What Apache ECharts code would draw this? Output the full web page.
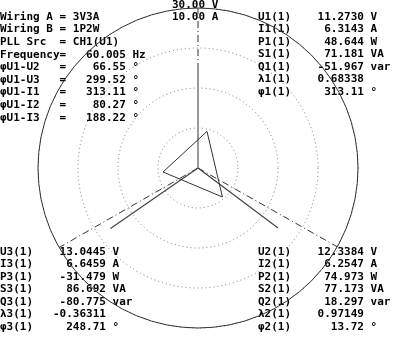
<!DOCTYPE html>
<html>
<head>
<meta charset="utf-8">
<script src="https://cdn.jsdelivr.net/npm/echarts@6/dist/echarts.min.js"></script>
<style>
    html, body {margin: 0; padding: 0; background: #fff;}
    #main {width: 398px; height: 338px;}
</style>
</head>
<body>
<div id="main"></div>
<script>
    // full scale of the outer ring
    const voltRange = 30.00;
    const currRange = 10.00;

    // phase voltage triangle vertices (V, degrees clockwise from top)
    const voltMag = [7.07, 7.11, 6.60];
    const voltAng = [13.8, 139.9, 263.5];

    // current vectors I1, I2, I3 (A, degrees)
    const currMag = [6.3143, 6.2547, 6.6459];
    const currAng = [0, 126.9, 235.4];

    // dash-dot reference axes (degrees, length in % of full scale)
    const refAng = [0, 119.5, 240.2];
    const refLen = [100, 136, 122];

    // readouts
    const setupLabels = ['Wiring A', 'Wiring B', 'PLL Src'];
    const setupValues = ['3V3A', '1P2W', 'CH1(U1)'];
    const freqValue = '60.005';
    const phaseLabels = ['φU1-U2', 'φU1-U3', 'φU1-I1', 'φU1-I2', 'φU1-I3'];
    const phaseValues = ['66.55', '299.52', '313.11', '80.27', '188.22'];

    const units = ['V', 'A', 'W', 'VA', 'var', '', '°'];
    const ch1Labels = ['U1(1)', 'I1(1)', 'P1(1)', 'S1(1)', 'Q1(1)', 'λ1(1)', 'φ1(1)'];
    const ch1Values = ['11.2730', '6.3143', '48.644', '71.181', '-51.967', '0.68338', '313.11'];
    const ch2Labels = ['U2(1)', 'I2(1)', 'P2(1)', 'S2(1)', 'Q2(1)', 'λ2(1)', 'φ2(1)'];
    const ch2Values = ['12.3384', '6.2547', '74.973', '77.173', '18.297', '0.97149', '13.72'];
    const ch3Labels = ['U3(1)', 'I3(1)', 'P3(1)', 'S3(1)', 'Q3(1)', 'λ3(1)', 'φ3(1)'];
    const ch3Values = ['13.0445', '6.6459', '-31.479', '86.692', '-80.775', '-0.36311', '248.71'];

    const font = 'bold 11px "DejaVu Sans Mono"';

    function txt(text, x, y) {
        return {
            type: 'text', silent: true,
            style: {text: text, x: x, y: y, font: font, fill: '#000', verticalAlign: 'middle'}
        };
    }

    function lineSeries(data, color, width, type, z) {
        return {
            type: 'line', coordinateSystem: 'polar', data: data,
            symbol: 'none', clip: false, silent: true, animation: false, z: z,
            lineStyle: {color: color, width: width, type: type}
        };
    }

    let series = [];
    // reference axes
    refAng.forEach((a, i) => {
        series.push(lineSeries([[0, a], [refLen[i], a]], '#333', 1, [7, 3, 1, 3], 2));
    });
    // voltage triangle
    let tri = voltMag.map((v, i) => [v / voltRange * 100, voltAng[i]]);
    tri.push(tri[0]);
    series.push(lineSeries(tri, '#333', 1, 'solid', 4));
    // current vectors
    currMag.forEach((v, i) => {
        series.push(lineSeries([[0, currAng[i]], [v / currRange * 100, currAng[i]]],
            i === 0 ? '#999' : '#444', i === 0 ? 2 : 1.2, 'solid', 3));
    });

    let graphics = [];
    let rowY = i => 17 + i * 12.6;
    setupLabels.forEach((l, i) => graphics.push(txt(l.padEnd(9) + '= ' + setupValues[i], 0, rowY(i))));
    graphics.push(txt('Frequency=' + freqValue.padStart(9) + ' Hz', 0, rowY(3)));
    phaseLabels.forEach((l, i) => graphics.push(txt(l.padEnd(9) + '=' + phaseValues[i].padStart(9) + ' °', 0, rowY(4 + i))));

    let block = (labels, values, x, y0) => {
        labels.forEach((l, i) => {
            graphics.push(txt(l + values[i].padStart(11) + ' ' + units[i], x, y0 + i * 12.5));
        });
    };
    block(ch1Labels, ch1Values, 258, 17);
    block(ch3Labels, ch3Values, 0, 252);
    block(ch2Labels, ch2Values, 258, 252);

    graphics.push(txt('30.00 V', 172, 5));
    graphics.push(txt('10.00 A', 172, 17));

    let myChart = echarts.init(document.getElementById('main'));
    myChart.setOption({
        animation: false,
        polar: {center: [198, 168], radius: 160},
        angleAxis: {
            type: 'value', min: 0, max: 360, startAngle: 90, clockwise: true,
            axisLine: {show: true, lineStyle: {color: '#333', width: 1}},
            axisTick: {show: false}, axisLabel: {show: false}, splitLine: {show: false}
        },
        radiusAxis: {
            type: 'value', min: 0, max: 100, interval: 25,
            axisLine: {show: false}, axisTick: {show: false}, axisLabel: {show: false},
            splitLine: {show: true, lineStyle: {color: '#777', type: [1, 3]}}
        },
        series: series,
        graphic: graphics
    });
</script>
</body>
</html>
